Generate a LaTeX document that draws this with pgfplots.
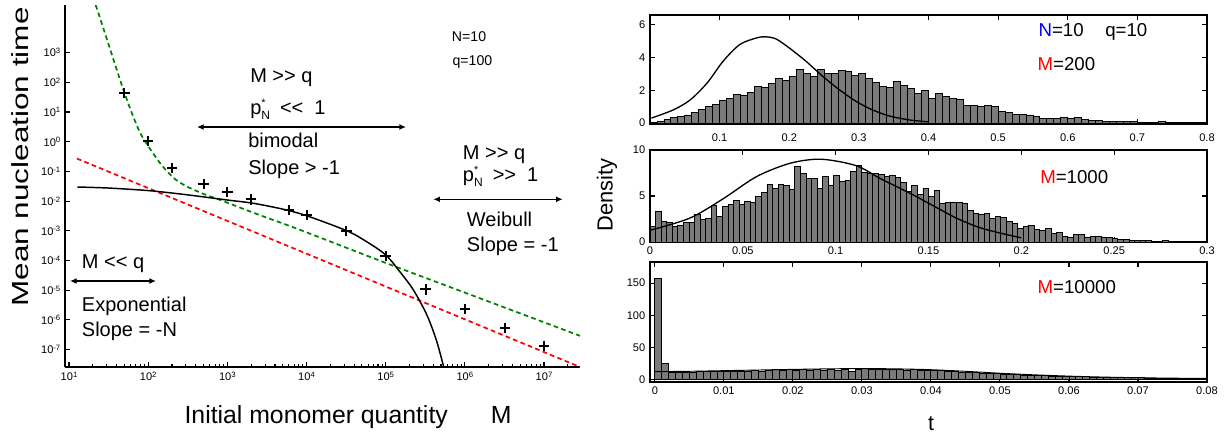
\documentclass[border=0pt]{standalone}
\usepackage{fontspec}
\setmainfont{Liberation Sans}
\usepackage{pgfplots}
\pgfplotsset{compat=1.18}
\usetikzlibrary{arrows.meta}

\definecolor{dgreen}{RGB}{0,128,0}
\definecolor{hgray}{RGB}{122,122,122}
% 10^n as text, so the tick labels stay in the sans font
\newcommand{\pw}[1]{10\raisebox{0.6ex}{\fontsize{5.8}{6}\selectfont #1}}
\newcommand{\ann}{\fontsize{15}{17}\selectfont}
\newcommand{\pstar}{p\makebox[0pt][l]{\raisebox{0.8ex}{\fontsize{8}{8}\selectfont *}}\raisebox{-0.45ex}{\fontsize{9}{9}\selectfont N}}

\begin{document}
\begin{tikzpicture}
\useasboundingbox (0,0) rectangle (919.5pt,327pt);

% ---------------- left: mean nucleation time ----------------
\begin{axis}[
  at={(48.75pt,51.75pt)}, anchor=south west,
  scale only axis, width=386.25pt, height=271.5pt,
  xmode=log, ymode=log,
  xmin=8.9, xmax=2.85e7, ymin=2.6e-8, ymax=4e4,
  axis lines=left, axis line style={-, line width=1.4pt},
  tick align=inside,
  major tick length=3.75pt, minor tick length=2.2pt,
  tick style={black, line width=0.8pt},
  xtick={10,100,1000,10000,100000,1000000,10000000},
  xticklabels={\pw{1},\pw{2},\pw{3},\pw{4},\pw{5},\pw{6},\pw{7}},
  minor xtick={20,30,40,50,60,70,80,90,200,300,400,500,600,700,800,900,
    2000,3000,4000,5000,6000,7000,8000,9000,2e4,3e4,4e4,5e4,6e4,7e4,8e4,9e4,
    2e5,3e5,4e5,5e5,6e5,7e5,8e5,9e5,2e6,3e6,4e6,5e6,6e6,7e6,8e6,9e6,2e7},
  ytick={1e-7,1e-6,1e-5,1e-4,1e-3,1e-2,1e-1,1,10,100,1000},
  yticklabels={\pw{-7},\pw{-6},\pw{-5},\pw{-4},\pw{-3},\pw{-2},\pw{-1},\pw{0},\pw{1},\pw{2},\pw{3}},
  yminorticks=false,
  tick label style={font=\fontsize{8.3}{9}\selectfont},
]
\addplot[dgreen, line width=1.3pt, dash pattern=on 3.5pt off 2.5pt, smooth] coordinates {
(19.95,70795) (22.39,31623) (26.92,7079) (33.11,1288) (39.81,281.8) (50.12,44.67)
(63.10,8.318) (79.43,1.950) (100,0.7079) (117.5,0.3802) (141.3,0.1905) (173.8,0.1)
(223.9,0.05248) (309.0,0.03090) (501.2,0.01738) (812.8,0.01096) (1585,0.005495)
(2884,0.003020) (8318,0.001072) (100000,8.318e-5) (1000000,8.318e-6) (2.851e7,2.917e-7)
};
\addplot[red, line width=1.3pt, dash pattern=on 3.5pt off 2.5pt] coordinates {
(12.6,0.27) (2.85e7,2.6e-8)
};
\addplot[black, line width=1.1pt, smooth] coordinates {
(12.74,0.02985) (31.62,0.02754) (104.7,0.02239) (316.2,0.01622) (977.2,0.01096)
(2089,0.008511) (5012,0.005370) (10233,0.003162) (32359,0.001) (56234,4.467e-4)
(100000,1.549e-4) (151356,4.169e-5) (223872,1.023e-5) (331131,1.479e-6)
(436516,2.089e-7) (537032,2.818e-8) (575440,1.259e-8)
};
\addplot[black, only marks, mark=+, mark size=3.9pt, mark options={line width=1.5pt}] coordinates {
(50,42.7) (100,1.06) (200,0.133) (500,0.0385) (1000,0.0199) (2000,0.0115)
(6000,0.0050) (10000,0.0034) (32000,9.8e-4) (100000,1.41e-4) (320000,1.07e-5)
(1000000,2.29e-6) (3200000,5.37e-7) (10000000,1.35e-7)
};
\end{axis}

% ---------------- right, top: M=200 ----------------
\begin{axis}[
  at={(487.5pt,234pt)}, anchor=south west,
  scale only axis, width=417.75pt, height=81.75pt,
  xmin=0, xmax=0.8, ymin=-0.05, ymax=6.6,
  axis line style={line width=1.4pt},
  tick align=inside, major tick length=3.75pt,
  tick style={black, line width=0.8pt},
  scaled x ticks=false, scaled y ticks=false,
  xtick={0.1,0.2,0.3,0.4,0.5,0.6,0.7,0.8},
  xticklabels={0.1,0.2,0.3,0.4,0.5,0.6,0.7,0.8},
  xticklabel style={yshift=-3.5pt},
  ytick={0,2,4,6}, yticklabels={0,2,4,6},
  tick label style={font=\fontsize{8.3}{9}\selectfont},
]
\addplot[ybar, bar width=0.01, bar shift=0pt, fill=hgray, draw=black, line width=0.65pt] coordinates {
(0.005,0.03) (0.015,0.1) (0.025,0.2) (0.035,0.37) (0.045,0.4) (0.055,0.5) (0.065,0.65)
(0.075,0.86) (0.085,1.0) (0.095,1.14) (0.105,1.37) (0.115,1.5) (0.125,1.73) (0.135,1.71)
(0.145,1.88) (0.155,2.24) (0.165,2.18) (0.175,2.45) (0.185,2.71) (0.195,2.63) (0.205,2.86)
(0.215,3.27) (0.225,3.02) (0.235,2.86) (0.245,3.27) (0.255,3.06) (0.265,3.02) (0.275,3.22)
(0.285,3.18) (0.295,2.9) (0.305,3.02) (0.315,2.71) (0.325,2.49) (0.335,2.24) (0.345,2.18)
(0.355,2.55) (0.365,2.29) (0.375,2.12) (0.385,1.8) (0.395,2.0) (0.405,1.53) (0.415,1.84)
(0.425,1.63) (0.435,1.53) (0.445,1.43) (0.455,1.1) (0.465,1.1) (0.475,1.02) (0.485,1.1)
(0.495,1.02) (0.505,0.69) (0.515,0.65) (0.525,0.55) (0.535,0.51) (0.545,0.45) (0.555,0.41)
(0.565,0.31) (0.575,0.31) (0.585,0.29) (0.595,0.37) (0.605,0.29) (0.615,0.33) (0.625,0.24)
(0.635,0.16) (0.645,0.14) (0.655,0.12) (0.665,0.12) (0.675,0.08) (0.685,0.08) (0.695,0.12)
(0.705,0.06) (0.715,0.06) (0.725,0.06) (0.735,0.08) (0.745,0.06) (0.755,0.04) (0.765,0.04)
(0.775,0.03) (0.785,0.03) (0.795,0.02)
};
\addplot[black, line width=1pt, smooth] coordinates {
(0.002,0.31) (0.034,0.82) (0.058,1.43) (0.082,2.45) (0.105,3.78) (0.129,4.8) (0.153,5.2)
(0.166,5.27) (0.181,5.14) (0.200,4.59) (0.224,3.78) (0.248,2.86) (0.272,2.04) (0.296,1.33)
(0.319,0.82) (0.343,0.45) (0.372,0.2) (0.40,0.08)
};
\end{axis}

% ---------------- right, middle: M=1000 ----------------
\begin{axis}[
  at={(487.5pt,145.5pt)}, anchor=south west,
  scale only axis, width=417.75pt, height=69pt,
  xmin=0, xmax=0.3, ymin=0, ymax=10,
  axis line style={line width=1.4pt},
  tick align=inside, major tick length=3.75pt,
  tick style={black, line width=0.8pt},
  scaled x ticks=false, scaled y ticks=false,
  xtick={0,0.05,0.1,0.15,0.2,0.25,0.3},
  xticklabels={0,0.05,0.1,0.15,0.2,0.25,0.3},
  ytick={0,5,10}, yticklabels={0,5,10},
  tick label style={font=\fontsize{8.3}{9}\selectfont},
]
\addplot[ybar, bar width=0.003, bar shift=0pt, fill=hgray, draw=black, line width=0.65pt] coordinates {
(0.0015,1.7) (0.0045,3.35) (0.0075,2.2) (0.0105,2.1) (0.0135,1.7) (0.0165,1.8) (0.0195,2.1)
(0.0225,2.1) (0.0255,3.0) (0.0285,2.45) (0.0315,2.6) (0.0345,3.95) (0.0375,2.8) (0.0405,3.9)
(0.0435,4.1) (0.0465,4.55) (0.0495,4.1) (0.0525,4.45) (0.0555,4.25) (0.0585,5.0) (0.0615,5.4)
(0.0645,6.25) (0.0675,5.8) (0.0705,6.3) (0.0735,6.1) (0.0765,5.75) (0.0795,8.2) (0.0825,7.4)
(0.0855,6.9) (0.0885,6.9) (0.0915,5.8) (0.0945,7.15) (0.0975,6.2) (0.1005,7.25) (0.1035,6.55)
(0.1065,6.7) (0.1095,7.7) (0.1125,8.35) (0.1155,7.6) (0.1185,7.45) (0.1215,7.4) (0.1245,7.35)
(0.1275,7.1) (0.1305,7.2) (0.1335,7.0) (0.1365,6.5) (0.1395,5.45) (0.1425,6.1) (0.1455,5.15)
(0.1485,5.8) (0.1515,4.9) (0.1545,5.65) (0.1575,4.2) (0.1605,4.3) (0.1635,4.35) (0.1665,4.3)
(0.1695,4.2) (0.1725,3.45) (0.1755,3.1) (0.1785,3.0) (0.1815,3.1) (0.1845,2.6) (0.1875,2.8)
(0.1905,2.7) (0.1935,2.25) (0.1965,2.05) (0.1995,1.5) (0.2025,1.7) (0.2055,1.8) (0.2085,1.4)
(0.2115,1.25) (0.2145,1.5) (0.2175,0.9) (0.2205,1.0) (0.2235,0.6) (0.2265,0.55) (0.2295,0.8)
(0.2325,0.8) (0.2355,0.55) (0.2385,0.65) (0.2415,0.65) (0.2445,0.55) (0.2475,0.45) (0.2505,0.35)
(0.2535,0.3) (0.2565,0.25) (0.2595,0.2) (0.2625,0.15) (0.2655,0.15) (0.2685,0.2) (0.2715,0.1)
(0.2745,0.1) (0.2775,0.15) (0.2805,0.1) (0.2835,0.08) (0.2865,0.06) (0.2895,0.05) (0.2925,0.05)
(0.2955,0.05) (0.2985,0.04)
};
\addplot[black, line width=1pt, smooth] coordinates {
(0,1.27) (0.0215,2.6) (0.0394,4.7) (0.0573,7.1) (0.0753,8.55) (0.092,9.0) (0.111,8.3)
(0.124,6.9) (0.14,5.3) (0.152,4.0) (0.165,2.6) (0.177,1.6) (0.188,1.0) (0.2,0.45)
};
\end{axis}

% ---------------- right, bottom: M=10000 ----------------
\begin{axis}[
  at={(487.5pt,40.5pt)}, anchor=south west,
  scale only axis, width=417.75pt, height=90pt,
  xmin=-0.0007, xmax=0.08, ymin=-4.2, ymax=183,
  axis line style={line width=1.4pt},
  tick align=inside, major tick length=3.75pt,
  tick style={black, line width=0.8pt},
  scaled x ticks=false, scaled y ticks=false,
  xtick={0,0.01,0.02,0.03,0.04,0.05,0.06,0.07,0.08},
  xticklabels={0,0.01,0.02,0.03,0.04,0.05,0.06,0.07,0.08},
  ytick={0,50,100,150}, yticklabels={0,50,100,150},
  tick label style={font=\fontsize{8.3}{9}\selectfont},
]
\addplot[ybar, bar width=0.001, bar shift=0pt, fill=hgray, draw=black, line width=0.65pt] coordinates {
(0.0005,158) (0.0015,25) (0.0025,11) (0.0035,11) (0.0045,11.5) (0.0055,11) (0.0065,12)
(0.0075,12) (0.0085,12.5) (0.0095,12) (0.0105,13) (0.0115,12.5) (0.0125,13) (0.0135,12.5)
(0.0145,13.5) (0.0155,12) (0.0165,14) (0.0175,15) (0.0185,14.5) (0.0195,15) (0.0205,14.5)
(0.0215,15) (0.0225,14.5) (0.0235,15) (0.0245,14) (0.0255,15) (0.0265,14.5) (0.0275,15.5)
(0.0285,12.5) (0.0295,15) (0.0305,16.5) (0.0315,15) (0.0325,15.5) (0.0335,15) (0.0345,15.5)
(0.0355,15) (0.0365,14.5) (0.0375,15) (0.0385,14) (0.0395,14.5) (0.0405,14) (0.0415,13.5)
(0.0425,13) (0.0435,12.5) (0.0445,11) (0.0455,11.5) (0.0465,10) (0.0475,9.5) (0.0485,9)
(0.0495,8.5) (0.0505,8) (0.0515,7.5) (0.0525,7) (0.0535,6.5) (0.0545,6.5) (0.0555,6)
(0.0565,5.5) (0.0575,5) (0.0585,5) (0.0595,4.5) (0.0605,4.5) (0.0615,4) (0.0625,4)
(0.0635,3.5) (0.0645,3.5) (0.0655,3) (0.0665,3.5) (0.0675,3) (0.0685,2.5) (0.0695,2.5)
(0.0705,2.5) (0.0715,2) (0.0725,2) (0.0735,2) (0.0745,2) (0.0755,1.5) (0.0765,1.5)
(0.0775,1.5) (0.0785,1.5) (0.0795,1.5)
};
\addplot[black, line width=0.7pt, smooth] coordinates {
(0,12) (0.005,12.5) (0.01,13.5) (0.015,14.5) (0.02,15.5) (0.025,16.3) (0.03,16.8)
(0.035,16.3) (0.04,15) (0.045,12.5) (0.05,9.5) (0.055,7) (0.06,5) (0.065,3.5)
(0.07,2.5) (0.075,1.8) (0.08,1.3)
};
\end{axis}

% ---------------- labels and annotations (pixel grid of the reference) ----------------
\begin{scope}[x=0.75pt, y=-0.75pt, yshift=327pt,
  txt/.style={anchor=base west, inner sep=0pt}]
  % left panel
  \node[rotate=90, inner sep=0pt] at (20,157) {\scalebox{1.35}[1]{\fontsize{17.5}{20}\selectfont Mean nucleation time}};
  \node[txt, font=\fontsize{18.6}{21}\selectfont] at (184.3,423.3) {Initial monomer quantity};
  \node[txt, font=\fontsize{18.6}{21}\selectfont] at (490.7,423.3) {M};

  \node[txt, font=\ann] at (250,83) {M >{}> q};
  \node[txt, font=\ann] at (250,115) {\pstar\hspace{0.5em}<{}<\hspace{0.55em}1};
  \draw[{Latex[length=5pt,width=4.5pt]}-{Latex[length=5pt,width=4.5pt]}, line width=1.1pt] (197,127) -- (406,127);
  \node[txt, font=\ann] at (248,148) {bimodal};
  \node[txt, font=\ann] at (248,174) {Slope > -1};

  \node[txt, font=\fontsize{10.6}{12}\selectfont] at (451.7,42) {N=10};
  \node[txt, font=\fontsize{10.6}{12}\selectfont] at (452.3,65.7) {q=100};

  \node[txt, font=\ann] at (462.7,160) {M >{}> q};
  \node[txt, font=\ann] at (462.7,181.7) {\pstar\hspace{0.5em}>{}>\hspace{0.55em}1};
  \draw[{Latex[length=5pt,width=4.5pt]}-{Latex[length=5pt,width=4.5pt]}, line width=1.1pt] (433.3,199.3) -- (562.7,199.3);
  \node[txt, font=\ann] at (466.7,226.7) {Weibull};
  \node[txt, font=\ann] at (466.7,251.7) {Slope = -1};

  \node[txt, font=\ann] at (81.7,268.3) {M <{}< q};
  \draw[{Latex[length=5pt,width=4.5pt]}-{Latex[length=5pt,width=4.5pt]}, line width=1.1pt] (70,281) -- (156,281);
  \node[txt, font=\ann] at (81.7,311) {Exponential};
  \node[txt, font=\ann] at (81.7,336.7) {Slope = -N};

  % right panels
  \node[rotate=90, inner sep=0pt, font=\fontsize{16.4}{19}\selectfont] at (607,195) {Density};
  \node[anchor=base, inner sep=0pt, font=\fontsize{16}{19}\selectfont] at (931,430) {t};
  \node[txt, font=\fontsize{14}{16}\selectfont] at (1038.3,36.7) {{\color{blue}N}=10};
  \node[txt, font=\fontsize{14}{16}\selectfont] at (1105,36.7) {q=10};
  \node[txt, font=\fontsize{14}{16}\selectfont] at (1037.3,71) {{\color{red}M}=200};
  \node[txt, font=\fontsize{14}{16}\selectfont] at (1040,183.3) {{\color{red}M}=1000};
  \node[txt, font=\fontsize{14}{16}\selectfont] at (1037.3,293) {{\color{red}M}=10000};
\end{scope}
\end{tikzpicture}
\end{document}
